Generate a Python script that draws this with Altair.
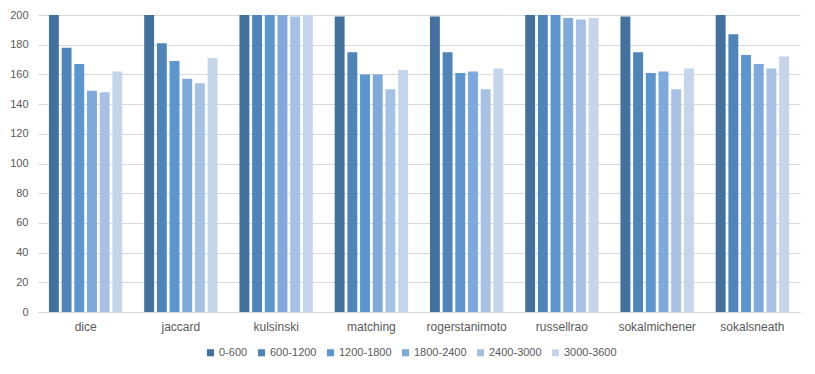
import altair as alt
import pandas as pd

categories = ["dice", "jaccard", "kulsinski", "matching", "rogerstanimoto",
              "russellrao", "sokalmichener", "sokalsneath"]
series = ["0-600", "600-1200", "1200-1800", "1800-2400", "2400-3000", "3000-3600"]
values = {
    "0-600":     [200, 200, 200, 199, 199, 200, 199, 200],
    "600-1200":  [178, 181, 200, 175, 175, 200, 175, 187],
    "1200-1800": [167, 169, 200, 160, 161, 200, 161, 173],
    "1800-2400": [149, 157, 200, 160, 162, 198, 162, 167],
    "2400-3000": [148, 154, 199, 150, 150, 197, 150, 164],
    "3000-3600": [162, 171, 200, 163, 164, 198, 164, 172],
}
colors = ["#41719C", "#4E84B8", "#5B96CE", "#7FA9DA", "#A6C1E4", "#C4D5EC"]
y_ticks = list(range(0, 201, 20))

rows = []
for s in series:
    for c, v in zip(categories, values[s]):
        rows.append({"metric": c, "range": s, "value": v})
df = pd.DataFrame(rows)

FONT = "Liberation Sans"
TXT = "#595959"
GRID = "#D9D9D9"

chart = alt.Chart(df).mark_bar().encode(
    x=alt.X("metric:N", sort=categories, title=None,
            scale=alt.Scale(paddingInner=0.23, paddingOuter=0.115),
            axis=alt.Axis(labelAngle=0, ticks=False, domainColor=GRID,
                          labelColor=TXT, labelFontSize=12, labelFont=FONT,
                          labelPadding=9, grid=False)),
    xOffset=alt.XOffset("range:N", sort=series,
                        scale=alt.Scale(paddingInner=0.22, paddingOuter=0)),
    y=alt.Y("value:Q", title=None,
            scale=alt.Scale(domain=[0, 200], nice=False),
            axis=alt.Axis(values=y_ticks, domain=False, ticks=False,
                          gridColor=GRID, gridWidth=1, labelColor=TXT,
                          labelFontSize=11, labelFont=FONT, labelPadding=10)),
    color=alt.Color("range:N", sort=series,
                    scale=alt.Scale(domain=series, range=colors),
                    legend=alt.Legend(orient="none", direction="horizontal",
                                      legendX=167, legendY=332, title=None,
                                      symbolType="square", symbolSize=50,
                                      symbolStrokeWidth=0, labelOffset=3,
                                      columnPadding=8, labelFontSize=11,
                                      labelFont=FONT, labelColor=TXT)),
).properties(
    width=762, height=297,
    autosize=alt.AutoSizeParams(type="none"),
    padding={"left": 30, "top": 7, "right": 7, "bottom": 54},
    background="white",
).configure_view(strokeWidth=0, strokeOpacity=0)

chart.save("out.html", embed_options={"renderer": "svg", "actions": False})
